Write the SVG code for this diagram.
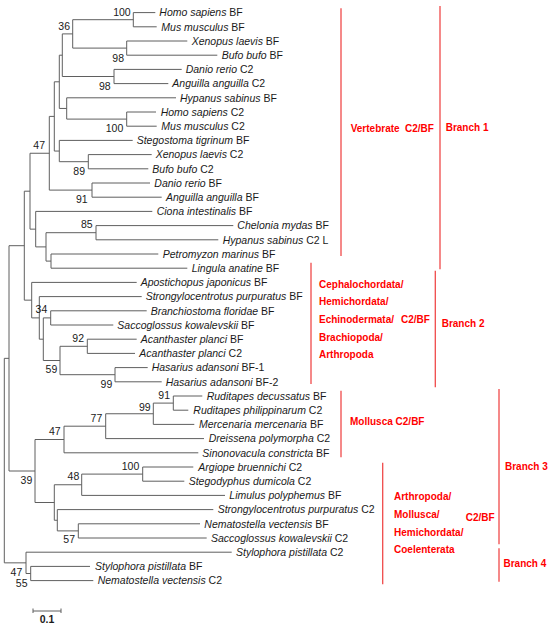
<svg xmlns="http://www.w3.org/2000/svg" width="550" height="627" viewBox="0 0 550 627">
<style>
.br{fill:none;stroke:#5f5f5f;stroke-width:1}
.lf{font-family:"Liberation Sans",Arial,sans-serif;font-size:10.5px;fill:#1a1a1a}
.i{font-style:italic}
.bs{font-family:"Liberation Sans",Arial,sans-serif;font-size:10.5px;fill:#1a1a1a;text-anchor:end}
.rl{stroke:#f04a4a;stroke-width:1.3;fill:none}
.rt{font-family:"Liberation Sans",Arial,sans-serif;font-size:10px;font-weight:bold;fill:#ff0000}
</style>
<rect width="550" height="627" fill="#ffffff"/>
<g id="connectors" class="br">
<path d="M155.3,12.6 H133.3 V26.8 H156.7"/>
<path d="M187.3,41 H126.7 V55.2 H217.3"/>
<path d="M133.3,19.7 H72.7 V48.1 H126.7"/>
<path d="M181.7,69.4 H114 V83.6 H168.3"/>
<path d="M72.7,33.9 H62.3 V76.5 H114"/>
<path d="M156,112 H126.7 V126.2 H156.7"/>
<path d="M176,97.8 H66.7 V119.1 H126.7"/>
<path d="M62.3,55.2 H59.3 V108.45 H66.7"/>
<path d="M151.7,154.6 H88.3 V168.8 H148.3"/>
<path d="M132.7,140.4 H59.3 V161.7 H88.3"/>
<path d="M59.3,81.8 H54.3 V151.05 H59.3"/>
<path d="M150,183 H92 V197.2 H161.7"/>
<path d="M54.3,116.4 H49.3 V190.1 H92"/>
<path d="M233.3,225.6 H96 V239.8 H218.3"/>
<path d="M158.3,254 H51 V268.2 H187.3"/>
<path d="M96,232.7 H46 V261.1 H51"/>
<path d="M152.3,211.4 H35.7 V246.9 H46"/>
<path d="M49.3,153.25 H30 V229.15 H35.7"/>
<path d="M146.7,310.8 H50.7 V325 H113.3"/>
<path d="M136.7,339.2 H87.3 V353.4 H135"/>
<path d="M147.7,367.6 H115 V381.8 H161.7"/>
<path d="M87.3,346.3 H60 V374.7 H115"/>
<path d="M50.7,317.9 H43.3 V360.5 H60"/>
<path d="M141.7,296.6 H39.3 V339.2 H43.3"/>
<path d="M136.7,282.4 H31.7 V317.9 H39.3"/>
<path d="M30,191.2 H24.3 V300.15 H31.7"/>
<path d="M202.3,396 H173.3 V410.2 H188.3"/>
<path d="M173.3,403.1 H153.3 V424.4 H194.3"/>
<path d="M153.3,413.75 H105.7 V438.6 H204"/>
<path d="M105.7,426.2 H64 V452.8 H198.3"/>
<path d="M193.3,467 H142.7 V481.2 H184.3"/>
<path d="M142.7,474.1 H81.7 V495.4 H225"/>
<path d="M200,523.8 H78.3 V538 H206.7"/>
<path d="M213.3,509.6 H57.3 V530.9 H78.3"/>
<path d="M81.7,484.75 H54.3 V520.25 H57.3"/>
<path d="M64,439.5 H35 V502.5 H54.3"/>
<path d="M24.3,245.7 H9 V471 H35"/>
<path d="M90,566.4 H30.7 V580.6 H93.3"/>
<path d="M231.7,552.2 H26 V573.5 H30.7"/>
<path d="M9,358.35 H4.3 V562.85 H26"/>
</g>
<g id="leaves" class="lf">
<g id="leaf-1"><text x="159.3" y="16.4"><tspan class="i">Homo sapiens</tspan> BF</text></g>
<g id="leaf-2"><text x="161.3" y="30.6"><tspan class="i">Mus musculus</tspan> BF</text></g>
<g id="leaf-3"><text x="191.7" y="44.8"><tspan class="i">Xenopus laevis</tspan> BF</text></g>
<g id="leaf-4"><text x="221.7" y="59"><tspan class="i">Bufo bufo</tspan> BF</text></g>
<g id="leaf-5"><text x="185.7" y="73.2"><tspan class="i">Danio rerio</tspan> C2</text></g>
<g id="leaf-6"><text x="172.3" y="87.4"><tspan class="i">Anguilla anguilla</tspan> C2</text></g>
<g id="leaf-7"><text x="180" y="101.6"><tspan class="i">Hypanus sabinus</tspan> BF</text></g>
<g id="leaf-8"><text x="160.7" y="115.8"><tspan class="i">Homo sapiens</tspan> C2</text></g>
<g id="leaf-9"><text x="161.3" y="130"><tspan class="i">Mus musculus</tspan> C2</text></g>
<g id="leaf-10"><text x="136.7" y="144.2"><tspan class="i">Stegostoma tigrinum</tspan> BF</text></g>
<g id="leaf-11"><text x="155.7" y="158.4"><tspan class="i">Xenopus laevis</tspan> C2</text></g>
<g id="leaf-12"><text x="152.3" y="172.6"><tspan class="i">Bufo bufo</tspan> C2</text></g>
<g id="leaf-13"><text x="154.3" y="186.8"><tspan class="i">Danio rerio</tspan> BF</text></g>
<g id="leaf-14"><text x="166" y="201"><tspan class="i">Anguilla anguilla</tspan> BF</text></g>
<g id="leaf-15"><text x="156.7" y="215.2"><tspan class="i">Ciona intestinalis</tspan> BF</text></g>
<g id="leaf-16"><text x="237.3" y="229.4"><tspan class="i">Chelonia mydas</tspan> BF</text></g>
<g id="leaf-17"><text x="222.7" y="243.6"><tspan class="i">Hypanus sabinus</tspan> C2 L</text></g>
<g id="leaf-18"><text x="162.7" y="257.8"><tspan class="i">Petromyzon marinus</tspan> BF</text></g>
<g id="leaf-19"><text x="191.7" y="272"><tspan class="i">Lingula anatine</tspan> BF</text></g>
<g id="leaf-20"><text x="140.7" y="286.2"><tspan class="i">Apostichopus japonicus</tspan> BF</text></g>
<g id="leaf-21"><text x="145.7" y="300.4"><tspan class="i">Strongylocentrotus purpuratus</tspan> BF</text></g>
<g id="leaf-22"><text x="150.7" y="314.6"><tspan class="i">Branchiostoma floridae</tspan> BF</text></g>
<g id="leaf-23"><text x="117.3" y="328.8"><tspan class="i">Saccoglossus kowalevskii</tspan> BF</text></g>
<g id="leaf-24"><text x="140.7" y="343"><tspan class="i">Acanthaster planci</tspan> BF</text></g>
<g id="leaf-25"><text x="139.3" y="357.2"><tspan class="i">Acanthaster planci</tspan> C2</text></g>
<g id="leaf-26"><text x="151.7" y="371.4"><tspan class="i">Hasarius adansoni</tspan> BF-1</text></g>
<g id="leaf-27"><text x="165.7" y="385.6"><tspan class="i">Hasarius adansoni</tspan> BF-2</text></g>
<g id="leaf-28"><text x="206.7" y="399.8"><tspan class="i">Ruditapes decussatus</tspan> BF</text></g>
<g id="leaf-29"><text x="193.3" y="414"><tspan class="i">Ruditapes philippinarum</tspan> C2</text></g>
<g id="leaf-30"><text x="199" y="428.2"><tspan class="i">Mercenaria mercenaria</tspan> BF</text></g>
<g id="leaf-31"><text x="208.7" y="442.4"><tspan class="i">Dreissena polymorpha</tspan> C2</text></g>
<g id="leaf-32"><text x="202.3" y="456.6"><tspan class="i">Sinonovacula constricta</tspan> BF</text></g>
<g id="leaf-33"><text x="198.3" y="470.8"><tspan class="i">Argiope bruennichi</tspan> C2</text></g>
<g id="leaf-34"><text x="188.7" y="485"><tspan class="i">Stegodyphus dumicola</tspan> C2</text></g>
<g id="leaf-35"><text x="229.3" y="499.2"><tspan class="i">Limulus polyphemus</tspan> BF</text></g>
<g id="leaf-36"><text x="217.7" y="513.4"><tspan class="i">Strongylocentrotus purpuratus</tspan> C2</text></g>
<g id="leaf-37"><text x="204.3" y="527.6"><tspan class="i">Nematostella vectensis</tspan> BF</text></g>
<g id="leaf-38"><text x="211" y="541.8"><tspan class="i">Saccoglossus kowalevskii</tspan> C2</text></g>
<g id="leaf-39"><text x="236" y="556"><tspan class="i">Stylophora pistillata</tspan> C2</text></g>
<g id="leaf-40"><text x="95" y="570.2"><tspan class="i">Stylophora pistillata</tspan> BF</text></g>
<g id="leaf-41"><text x="97.7" y="584.4"><tspan class="i">Nematostella vectensis</tspan> C2</text></g>
</g>
<g id="bootstrap" class="bs">
<text x="130.7" y="15.5">100</text>
<text x="70" y="29.5">36</text>
<text x="124" y="61.5">98</text>
<text x="110.7" y="89.8">98</text>
<text x="123.3" y="131.5">100</text>
<text x="45" y="148.8">47</text>
<text x="85" y="174.8">89</text>
<text x="87.7" y="203">91</text>
<text x="92.7" y="228">85</text>
<text x="47.3" y="313">34</text>
<text x="84" y="341.5">92</text>
<text x="57.3" y="373">59</text>
<text x="112.3" y="387.5">99</text>
<text x="170" y="398.8">91</text>
<text x="150.7" y="410.5">99</text>
<text x="102.3" y="422">77</text>
<text x="60.7" y="434.8">47</text>
<text x="139.3" y="469.5">100</text>
<text x="79.3" y="479.8">48</text>
<text x="32.3" y="483.8">39</text>
<text x="75" y="543">57</text>
<text x="22.3" y="575.5">47</text>
<text x="27.5" y="587">55</text>
</g>
<g id="scale-bar">
<path class="br" d="M33,611 H61 M33,608.5 V613 M61,608.5 V613"/>
<text x="47" y="622.8" text-anchor="middle" font-family="Liberation Sans, Arial, sans-serif" font-size="10.5" font-weight="bold" fill="#1a1a1a">0.1</text>
</g>
<g id="group-vertebrate">
<line class="rl" x1="341" y1="8.3" x2="341" y2="256"/>
<text class="rt" x="350.7" y="131.8">Vertebrate</text>
<text class="rt" x="405" y="131.8">C2/BF</text>
</g>
<g id="branch-1">
<line class="rl" x1="440" y1="6" x2="440" y2="269.3"/>
<text class="rt" x="445.7" y="131.4">Branch 1</text>
</g>
<g id="group-cephalochordata">
<line class="rl" x1="311" y1="262.7" x2="311" y2="384"/>
<text class="rt" x="319" y="287.6">Cephalochordata/</text>
<text class="rt" x="319" y="305.3">Hemichordata/</text>
<text class="rt" x="319" y="322.9">Echinodermata/</text>
<text class="rt" x="401" y="322.9">C2/BF</text>
<text class="rt" x="319" y="340.5">Brachiopoda/</text>
<text class="rt" x="319" y="358.1">Arthropoda</text>
</g>
<g id="branch-2">
<line class="rl" x1="435.3" y1="270.7" x2="435.3" y2="387.3"/>
<text class="rt" x="441.7" y="327">Branch 2</text>
</g>
<g id="group-mollusca">
<line class="rl" x1="341" y1="390.7" x2="341" y2="457.3"/>
<text class="rt" x="350" y="424.6">Mollusca C2/BF</text>
</g>
<g id="branch-3">
<line class="rl" x1="499" y1="389" x2="499" y2="544.3"/>
<text class="rt" x="505" y="470.3">Branch 3</text>
</g>
<g id="group-arthropoda">
<line class="rl" x1="382.7" y1="462.7" x2="382.7" y2="584.3"/>
<text class="rt" x="394" y="500.3">Arthropoda/</text>
<text class="rt" x="394" y="517.9">Mollusca/</text>
<text class="rt" x="394" y="535.5">Hemichordata/</text>
<text class="rt" x="394" y="553.1">Coelenterata</text>
<text class="rt" x="465.7" y="521">C2/BF</text>
</g>
<g id="branch-4">
<line class="rl" x1="499" y1="548.3" x2="499" y2="581.7"/>
<text class="rt" x="503.5" y="567">Branch 4</text>
</g>
</svg>
